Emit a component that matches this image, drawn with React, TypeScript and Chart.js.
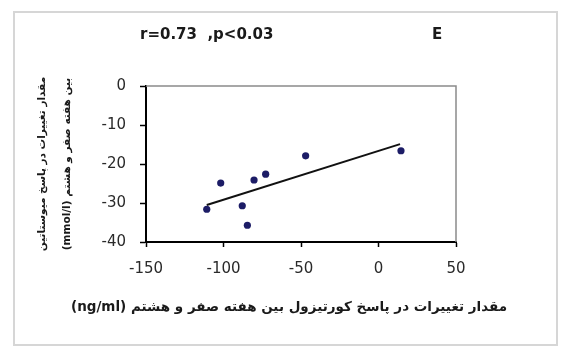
import { useEffect, useRef } from "react";
import { Chart, registerables } from "chart.js";

Chart.register(...registerables);

// Change in cortisol response (ng/ml) for each subject
const cortisolChange = [-110.8, -101.8, -87.9, -84.6, -80.3, -72.8, -47.0, 14.5];
// Change in response (mmol/l) for the same subjects
const responseChange = [-31.6, -24.9, -30.7, -35.7, -24.1, -22.6, -17.9, -16.6];

// End points of the fitted trend line
const fitX = [-110.8, 13.9];
const fitY = [-30.5, -14.9];

// Axis ranges and steps
const xRange = [-150, 50];
const xStep = 50;
const yRange = [-40, 0];
const yStep = 10;

const statText = "r=0.73  ,p<0.03";
const panelLetter = "E";
const xCaption = "(ng/ml) مقدار تغییرات در پاسخ کورتیزول بین هفته صفر و هشتم";
const yCaption = ["مقدار تغییرات در پاسخ میوستاتین", "(mmol/l) بین هفته صفر و هشتم"];

const LATIN = '"DejaVu Sans", Arial, sans-serif';
const PERSIAN = 'Tahoma, "DejaVu Sans", sans-serif';

const decorations = {
  id: "decorations",
  beforeDraw(chart: any) {
    const { ctx, width, height } = chart;
    ctx.save();
    ctx.fillStyle = "#ffffff";
    ctx.fillRect(0, 0, width, height);
    ctx.strokeStyle = "#d6d6d6";
    ctx.lineWidth = 2;
    ctx.strokeRect(14, 12, 543, 333);
    ctx.restore();
  },
  beforeDatasetsDraw(chart: any) {
    const { ctx, chartArea: a } = chart;
    ctx.save();
    ctx.strokeStyle = "#8a8a8a";
    ctx.lineWidth = 1.5;
    ctx.beginPath();
    ctx.moveTo(a.left, a.top);
    ctx.lineTo(a.right, a.top);
    ctx.lineTo(a.right, a.bottom);
    ctx.stroke();
    ctx.restore();
  },
  afterDraw(chart: any) {
    const { ctx, chartArea: a } = chart;
    ctx.save();
    ctx.fillStyle = "#1a1a1a";
    ctx.textBaseline = "middle";

    // statistics and panel letter above the plot
    ctx.font = `bold 15px ${LATIN}`;
    ctx.textAlign = "left";
    ctx.fillText(statText, 140, 35);
    ctx.textAlign = "center";
    ctx.fillText(panelLetter, 437, 35);

    // x axis caption
    ctx.font = `bold 13.5px ${PERSIAN}`;
    ctx.textAlign = "center";
    ctx.fillText(xCaption, 289, 307);

    // y axis caption, two rotated lines
    ctx.font = `bold 10.5px ${PERSIAN}`;
    const cy = (a.top + a.bottom) / 2;
    yCaption.forEach((line, i) => {
      ctx.save();
      ctx.translate(42 + i * 25, cy);
      ctx.rotate(-Math.PI / 2);
      ctx.fillText(line, 0, 0);
      ctx.restore();
    });
    ctx.restore();
  },
};

export default function App() {
  const canvasRef = useRef<HTMLCanvasElement | null>(null);

  useEffect(() => {
    const canvas = canvasRef.current;
    if (!canvas) return;

    const points = cortisolChange.map((x, i) => ({ x, y: responseChange[i] }));
    const fit = fitX.map((x, i) => ({ x, y: fitY[i] }));

    const chart = new Chart(canvas, {
      type: "scatter",
      data: {
        datasets: [
          {
            data: points,
            backgroundColor: "#1c1c66",
            borderWidth: 0,
            pointRadius: 3.6,
            pointStyle: "circle",
            order: 1,
          },
          {
            data: fit,
            showLine: true,
            borderColor: "#111111",
            borderWidth: 2,
            pointRadius: 0,
            order: 2,
          },
        ],
      },
      options: {
        responsive: false,
        animation: false,
        layout: { padding: { top: 86, right: 109, bottom: 66, left: 0 } },
        plugins: {
          legend: { display: false },
          tooltip: { enabled: false },
          title: { display: false },
        },
        scales: {
          x: {
            type: "linear",
            min: xRange[0],
            max: xRange[1],
            ticks: {
              stepSize: xStep,
              padding: 13,
              color: "#2a2a2a",
              font: { family: LATIN, size: 15 },
            },
            grid: {
              drawOnChartArea: false,
              drawTicks: true,
              tickLength: 5,
              tickColor: "#000000",
              tickWidth: 1.5,
            },
            border: { color: "#000000", width: 2 },
            afterFit(scale: any) {
              scale.height = 40;
            },
          },
          y: {
            type: "linear",
            min: yRange[0],
            max: yRange[1],
            ticks: {
              stepSize: yStep,
              padding: 14,
              color: "#2a2a2a",
              font: { family: LATIN, size: 15 },
            },
            grid: {
              drawOnChartArea: false,
              drawTicks: true,
              tickLength: 6,
              tickColor: "#000000",
              tickWidth: 1.5,
            },
            border: { color: "#000000", width: 2 },
            afterFit(scale: any) {
              scale.width = 146;
            },
          },
        },
      },
      plugins: [decorations],
    });

    return () => chart.destroy();
  }, []);

  return (
    <div style={{ position: "absolute", left: 0, top: 0, width: 565, height: 348 }}>
      <canvas ref={canvasRef} width={565} height={348} style={{ display: "block" }} />
    </div>
  );
}
